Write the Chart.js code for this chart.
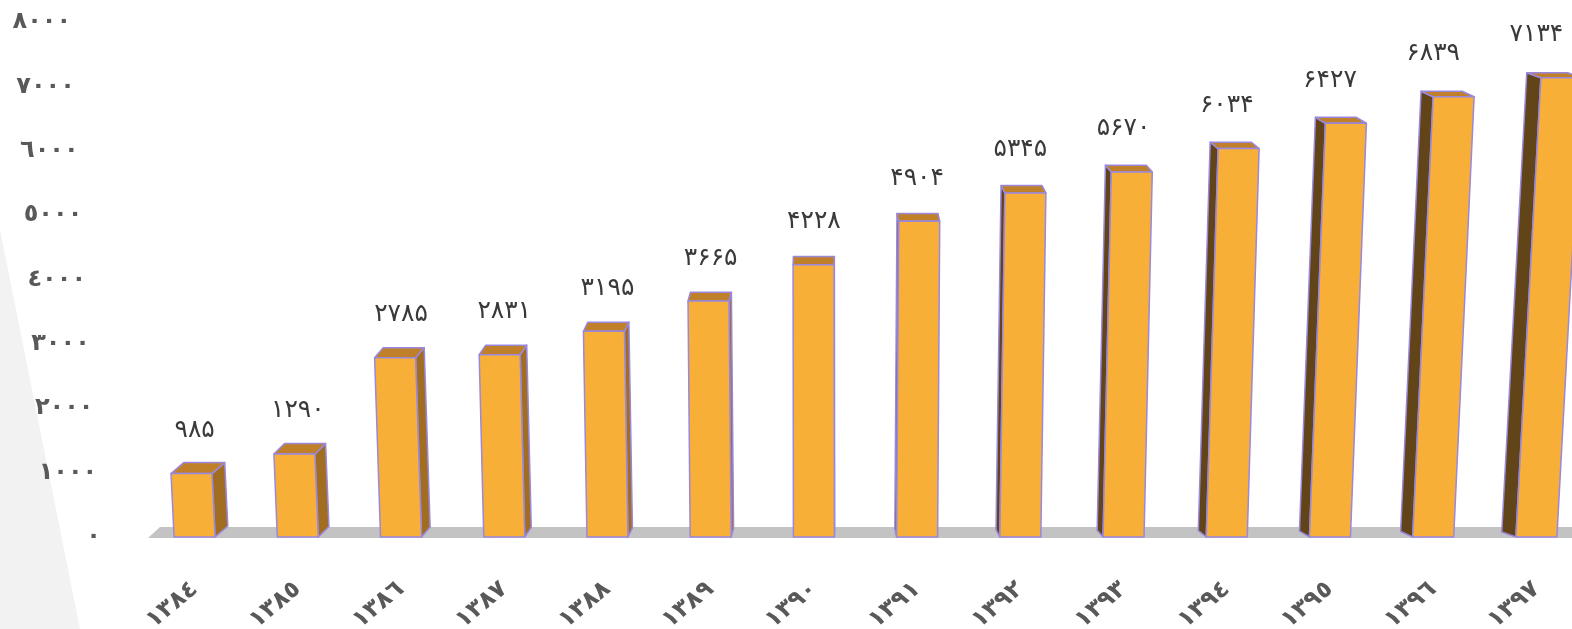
<!DOCTYPE html>
<html>
<head>
<meta charset="utf-8">
<script src="https://cdn.jsdelivr.net/npm/chart.js@4.4.1/dist/chart.umd.min.js"></script>
<style>
  html, body { margin: 0; padding: 0; background: #fff; overflow: hidden; }
  #wrap { width: 1590px; height: 629px; }
</style>
</head>
<body>
<div id="wrap"><canvas id="chart" width="1590" height="629"></canvas></div>
<script>
const years = ["١٣٨٤", "١٣٨٥", "١٣٨٦", "١٣٨٧", "١٣٨٨", "١٣٨٩", "١٣٩٠", "١٣٩١", "١٣٩٢", "١٣٩٣", "١٣٩٤", "١٣٩٥", "١٣٩٦", "١٣٩٧"];
const values = [985, 1290, 2785, 2831, 3195, 3665, 4228, 4904, 5345, 5670, 6034, 6427, 6839, 7134];
const tickLabels = ["٠", "١٠٠٠", "٢٠٠٠", "٣٠٠٠", "٤٠٠٠", "٥٠٠٠", "٦٠٠٠", "٧٠٠٠", "٨٠٠٠"];

const persianDigits = "۰۱۲۳۴۵۶۷۸۹";
const toPersian = (n) => String(n).replace(/\d/g, (d) => persianDigits[d]);

const FONT = "'DejaVu Sans', sans-serif";
const VANISH_X = 830;

// background wedge, floor, 3d bars, value labels and slanted y labels
const perspective = {
  id: "perspective",
  beforeDraw(chart) {
    const ctx = chart.ctx;
    ctx.save();
    ctx.fillStyle = "#f2f2f2";
    ctx.beginPath();
    ctx.moveTo(0, 230);
    ctx.lineTo(80, 629);
    ctx.lineTo(0, 629);
    ctx.closePath();
    ctx.fill();

    const base = chart.scales.y.getPixelForValue(0);
    ctx.fillStyle = "#c3c3c3";
    ctx.beginPath();
    ctx.moveTo(148, base + 1);
    ctx.lineTo(160, base - 10);
    ctx.lineTo(chart.width, base - 10);
    ctx.lineTo(chart.width, base + 1);
    ctx.closePath();
    ctx.fill();
    ctx.restore();
  },
  afterDatasetsDraw(chart) {
    const ctx = chart.ctx;
    const meta = chart.getDatasetMeta(0);
    ctx.save();
    ctx.lineJoin = "round";
    ctx.lineWidth = 1.5;
    ctx.strokeStyle = "#9a88de";
    meta.data.forEach((bar, i) => {
      const { x, y, base, width } = bar.getProps(["x", "y", "base", "width"], true);
      const h = base - y;
      const lean = h * 7.7e-5 * (x - VANISH_X);
      const dx = (VANISH_X - x) * 0.02;
      const dy = -11 + (x - 195) / 1340 * 6;
      const bl = [x - width / 2, base], br = [x + width / 2, base];
      const tl = [x - width / 2 + lean, y], tr = [x + width / 2 + lean, y];
      const poly = (pts, fill) => {
        ctx.beginPath();
        ctx.moveTo(pts[0][0], pts[0][1]);
        pts.slice(1).forEach((p) => ctx.lineTo(p[0], p[1]));
        ctx.closePath();
        ctx.fillStyle = fill;
        ctx.fill();
        ctx.stroke();
      };
      const off = (p) => [p[0] + dx, p[1] + dy];
      if (dx > 0) {
        poly([br, tr, off(tr), off(br)], "#a16d21");
      } else {
        poly([bl, tl, off(tl), off(bl)], "#614418");
      }
      poly([tl, tr, off(tr), off(tl)], "#bf8029");
      poly([bl, br, tr, tl], "#f7af37");

      ctx.fillStyle = "#3a3a3a";
      ctx.font = "25px " + FONT;
      ctx.textAlign = "center";
      ctx.textBaseline = "middle";
      ctx.fillText(toPersian(values[i]), x, y - 43);
    });

    const yScale = chart.scales.y;
    ctx.fillStyle = "#595959";
    ctx.font = "bold 24px " + FONT;
    ctx.textAlign = "right";
    ctx.textBaseline = "middle";
    yScale.ticks.forEach((t) => {
      const py = yScale.getPixelForValue(t.value);
      const label = tickLabels[Math.round(t.value / 1000)];
      ctx.fillText(label, 71 + (py - 20) * 0.058, py);
    });
    ctx.restore();
  },
};

new Chart(document.getElementById("chart"), {
  type: "bar",
  data: {
    labels: years,
    datasets: [{
      data: values,
      backgroundColor: "rgba(0,0,0,0)",
      borderWidth: 0,
      barThickness: 41,
    }],
  },
  plugins: [perspective],
  options: {
    responsive: false,
    animation: false,
    layout: { padding: { top: 22, right: 2, left: 0, bottom: 0 } },
    plugins: { legend: { display: false }, tooltip: { enabled: false } },
    scales: {
      x: {
        grid: { display: false },
        border: { display: false },
        afterFit: (s) => { s.height = 92; },
        ticks: {
          color: "#595959",
          font: { family: FONT, size: 24, weight: "bold" },
          minRotation: 40,
          maxRotation: 40,
          padding: 30,
        },
      },
      y: {
        min: 0,
        max: 8000,
        grid: { display: false },
        border: { display: false },
        afterFit: (s) => { s.width = 143; },
        ticks: { display: false, stepSize: 1000 },
      },
    },
  },
});
</script>
</body>
</html>
